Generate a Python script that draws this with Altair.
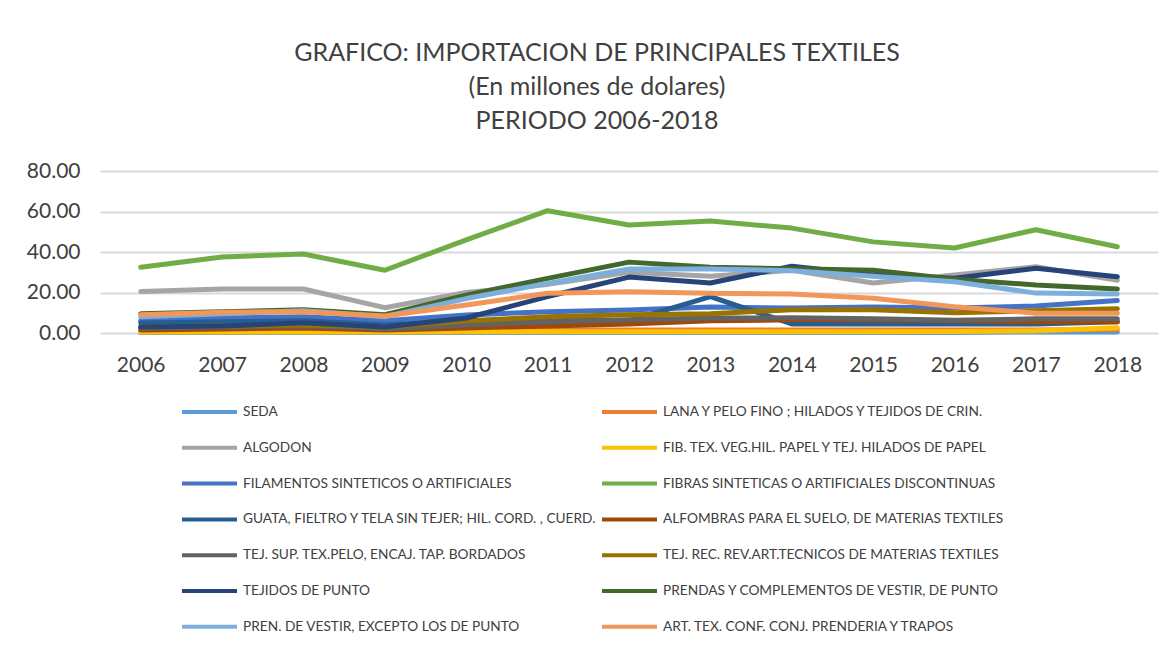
import altair as alt
import pandas as pd

years = [str(y) for y in range(2006, 2019)]

series_names = [
    "SEDA",
    "LANA Y PELO FINO ; HILADOS Y TEJIDOS DE CRIN.",
    "ALGODON",
    "FIB. TEX. VEG.HIL. PAPEL Y TEJ. HILADOS DE PAPEL",
    "FILAMENTOS SINTETICOS O ARTIFICIALES",
    "FIBRAS SINTETICAS O ARTIFICIALES DISCONTINUAS",
    "GUATA, FIELTRO Y TELA SIN TEJER; HIL. CORD. , CUERD.",
    "ALFOMBRAS PARA EL SUELO, DE MATERIAS TEXTILES",
    "TEJ. SUP. TEX.PELO, ENCAJ. TAP. BORDADOS",
    "TEJ. REC. REV.ART.TECNICOS DE MATERIAS TEXTILES",
    "TEJIDOS DE PUNTO",
    "PRENDAS Y COMPLEMENTOS DE VESTIR, DE PUNTO",
    "PREN. DE VESTIR, EXCEPTO LOS DE PUNTO",
    "ART. TEX. CONF.  CONJ. PRENDERIA Y TRAPOS",
]

series_colors = [
    "#5B9BD5", "#ED7D31", "#A5A5A5", "#FFC000", "#4472C4", "#70AD47", "#255E91",
    "#9E480E", "#636363", "#997300", "#264478", "#43682B", "#7CAFDD", "#F1975A",
]

seda = [0.3, 0.3, 0.3, 0.2, 0.2, 0.3, 0.3, 0.3, 0.3, 0.3, 0.3, 0.5, 0.5]
lana = [1.0, 1.2, 1.3, 1.0, 1.2, 1.5, 1.5, 1.5, 1.5, 1.5, 1.5, 1.5, 1.8]
algodon = [20.5, 21.7, 21.7, 12.5, 20.0, 24.0, 30.0, 28.0, 31.0, 24.7, 28.6, 32.7, 26.0]
fib_veg = [0.5, 0.5, 0.5, 0.5, 0.6, 0.6, 0.6, 0.6, 0.6, 0.6, 0.7, 1.1, 2.6]
filamentos = [6.0, 7.4, 8.0, 6.0, 8.9, 10.5, 11.4, 12.8, 12.3, 12.8, 12.3, 13.3, 16.0]
fibras = [32.5, 37.5, 39.0, 31.0, 46.0, 60.4, 53.3, 55.3, 51.8, 45.0, 42.0, 51.0, 42.6]
guata = [5.0, 5.5, 6.0, 4.0, 6.0, 6.5, 6.0, 18.0, 4.5, 4.5, 4.5, 4.5, 5.5]
alfombras = [1.5, 2.0, 2.5, 1.5, 2.5, 3.5, 4.5, 6.0, 6.5, 6.5, 6.0, 5.5, 5.5]
tej_sup = [2.5, 3.0, 3.5, 2.0, 4.0, 5.5, 6.5, 7.4, 7.5, 7.0, 6.3, 7.0, 7.0]
tej_rec = [3.0, 3.5, 4.0, 3.0, 6.0, 8.0, 9.0, 9.5, 11.5, 11.5, 10.0, 11.0, 12.0]
tejidos_punto = [3.0, 3.5, 5.0, 3.0, 7.4, 18.0, 27.6, 24.7, 33.0, 28.6, 27.0, 32.0, 27.8]
prendas_punto = [9.5, 10.5, 11.5, 9.0, 18.7, 27.0, 35.0, 32.5, 31.7, 31.0, 26.6, 23.7, 21.7]
pren_vestir = [8.0, 9.5, 11.0, 8.0, 17.0, 24.5, 31.6, 31.6, 30.8, 28.0, 25.3, 19.7, 19.3]
art_tex = [9.0, 10.3, 10.5, 8.4, 13.8, 19.6, 20.4, 19.6, 19.3, 17.2, 13.0, 9.8, 9.8]

all_values = [seda, lana, algodon, fib_veg, filamentos, fibras, guata, alfombras,
              tej_sup, tej_rec, tejidos_punto, prendas_punto, pren_vestir, art_tex]

rows = []
for name, vals in zip(series_names, all_values):
    for y, v in zip(years, vals):
        rows.append({"year": y, "serie": name, "valor": v})
df = pd.DataFrame(rows)

# Legend is filled column by column; reorder so it reads row by row like the original
legend_order = series_names[0::2] + series_names[1::2]
legend_colors = series_colors[0::2] + series_colors[1::2]

FONT = "Lato"
TXT = "#404040"

chart = (
    alt.Chart(df)
    .mark_line(strokeWidth=5, strokeJoin="round", strokeCap="round")
    .encode(
        x=alt.X("year:O", title=None, sort=years,
                scale=alt.Scale(paddingOuter=0.5),
                axis=alt.Axis(labelAngle=0, ticks=False, domain=False,
                              labelFontSize=21, labelPadding=21, labelColor=TXT,
                              labelFont=FONT, grid=False)),
        y=alt.Y("valor:Q", title=None,
                scale=alt.Scale(domain=[0, 80], nice=False),
                axis=alt.Axis(values=[0, 20, 40, 60, 80], format=".2f", ticks=False,
                              domain=False, labelFontSize=21, labelPadding=20,
                              labelColor=TXT, labelFont=FONT, gridColor="#D9D9D9",
                              gridWidth=2)),
        color=alt.Color("serie:N", sort=legend_order,
                        scale=alt.Scale(domain=legend_order, range=legend_colors),
                        legend=alt.Legend(title=None, orient="none", legendX=80,
                                          legendY=226, columns=2, symbolType="stroke",
                                          symbolStrokeWidth=4, symbolSize=3025,
                                          clipHeight=30, rowPadding=5.8,
                                          columnPadding=2, labelFontSize=13.7,
                                          labelFont=FONT, labelColor=TXT,
                                          labelLimit=700, labelOffset=4, padding=0)),
    )
    .properties(
        width=1058,
        height=162,
        title=alt.TitleParams(
            text=["GRAFICO: IMPORTACION DE PRINCIPALES TEXTILES",
                  "(En millones de dolares)", "PERIODO 2006-2018"],
            fontSize=25, font=FONT, fontWeight="normal", color=TXT,
            anchor="middle", dx=-32, lineHeight=34, offset=26,
        ),
        autosize=alt.AutoSizeParams(type="none"),
        padding={"left": 92, "top": 163, "right": 6, "bottom": 300},
    )
    .configure_view(stroke=None)
)

chart.save("out.html", embed_options={"renderer": "svg", "actions": False})
